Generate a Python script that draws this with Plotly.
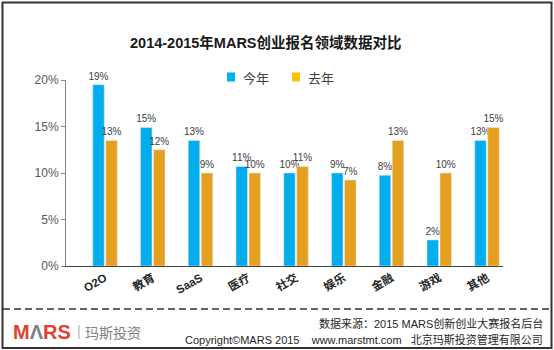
import plotly.graph_objects as go

categories = ["O2O", "教育", "SaaS", "医疗", "社交", "娱乐", "金融", "游戏", "其他"]
series_names = ["今年", "去年"]
this_year = [19.5, 14.9, 13.5, 10.7, 10.0, 10.0, 9.75, 2.8, 13.5]
last_year = [13.5, 12.5, 10.0, 10.0, 10.7, 9.25, 13.5, 10.0, 14.9]
this_year_labels = ["19%", "15%", "13%", "11%", "10%", "9%", "8%", "2%", "13%"]
last_year_labels = ["13%", "12%", "9%", "10%", "11%", "7%", "13%", "10%", "15%"]
y_ticks = [0, 5, 10, 15, 20]
y_tick_labels = ["0%", "5%", "10%", "15%", "20%"]

title = "2014-2015年MARS创业报名领域数据对比"
source_text = "数据来源：2015 MARS创新创业大赛报名后台"
copyright_text = "Copyright©MARS 2015\u00a0\u00a0\u00a0\u00a0www.marstmt.com\u00a0\u00a0\u00a0北京玛斯投资管理有限公司"

W, H = 554, 350
X0, X1, YT, YB = 66, 503, 80, 266

def px(x):
    return (x - X0) / (X1 - X0)

def py(y):
    return (YB - y) / (YB - YT)

FONT = "Liberation Sans, Arial, Noto Sans CJK SC, sans-serif"
BLUE = "#00AEEF"
ORANGE = "#E6A020"
LEGEND_COLORS = ["#00B0F0", "#FFC000"]

fig = go.Figure()
fig.add_bar(x=categories, y=this_year, name=series_names[0], marker_color=BLUE,
            text=this_year_labels, textposition="outside", constraintext="none",
            cliponaxis=False, textfont=dict(size=10, color="#404040"))
fig.add_bar(x=categories, y=last_year, name=series_names[1], marker_color=ORANGE,
            text=last_year_labels, textposition="outside", constraintext="none",
            cliponaxis=False, textfont=dict(size=10, color="#404040"))

fig.update_layout(
    width=W, height=H,
    margin=dict(l=X0, r=W - X1, t=YT, b=H - YB, pad=0),
    paper_bgcolor="white", plot_bgcolor="white",
    font=dict(family=FONT, size=12, color="#404040"),
    barmode="group", bargap=0.455, bargroupgap=0.115,
    showlegend=False,
    xaxis=dict(range=[-0.817, 8.335], showline=True, linecolor="#404040", linewidth=1.2,
               ticks="", tickangle=-30, showgrid=False, zeroline=False,
               tickfont=dict(size=11.5, color="#262626", family="Liberation Sans, Noto Sans CJK SC"),
               tickprefix="<b>", ticksuffix="</b>"),
    yaxis=dict(range=[0, 20], tickvals=y_ticks, ticktext=y_tick_labels, showline=True,
               linecolor="#868686", linewidth=1, ticks="outside", ticklen=4, tickcolor="#868686",
               showgrid=False, zeroline=False, tickfont=dict(size=12, color="#595959")),
)

annotations = [
    dict(text="<b>" + title + "</b>", x=px(266), y=py(43), xanchor="center", yanchor="middle",
         font=dict(size=14.5, color="#1a1a1a", family="Liberation Sans, Noto Sans CJK SC")),
    dict(text=source_text, x=px(545), y=py(323), xanchor="right", yanchor="middle",
         font=dict(size=11, color="#262626")),
    dict(text=copyright_text, x=px(545), y=py(339), xanchor="right", yanchor="middle",
         font=dict(size=11, color="#262626")),
    dict(text="<b><span style='color:#E2412F'>M</span><span style='color:#7f7f7f'>Λ</span>"
              "<span style='color:#E2412F'>RS</span></b>",
         x=px(11), y=py(332), xanchor="left", yanchor="middle",
         font=dict(size=20, family="Liberation Sans, Arial")),
    dict(text="|", x=px(75), y=py(331), xanchor="left", yanchor="middle",
         font=dict(size=14, color="#b0b0b0")),
    dict(text="玛斯投资", x=px(83), y=py(332), xanchor="left", yanchor="middle",
         font=dict(size=14, color="#808080", family="Noto Sans CJK SC")),
]

shapes = [
    dict(type="rect", xref="paper", yref="paper", x0=px(2.5), x1=px(551.5), y0=py(2.5), y1=py(348),
         line=dict(color="#333333", width=2), fillcolor="rgba(0,0,0,0)", layer="above"),
    dict(type="line", xref="paper", yref="paper", x0=px(3), x1=px(551), y0=py(309), y1=py(309),
         line=dict(color="#333333", width=1.5, dash="7px,4px")),
]

# manual legend
legend_x = [227, 292]
for name, col, lx in zip(series_names, LEGEND_COLORS, legend_x):
    shapes.append(dict(type="rect", xref="paper", yref="paper", x0=px(lx), x1=px(lx + 8),
                       y0=py(81.5), y1=py(72.5), line=dict(width=0), fillcolor=col))
    annotations.append(dict(text=name, x=px(lx + 14), y=py(77), xanchor="left", yanchor="middle",
                            font=dict(size=13, color="#404040", family="Noto Sans CJK SC")))

for a in annotations:
    a.update(xref="paper", yref="paper", showarrow=False)
fig.update_layout(annotations=annotations, shapes=shapes)

fig.write_html("out.html")
